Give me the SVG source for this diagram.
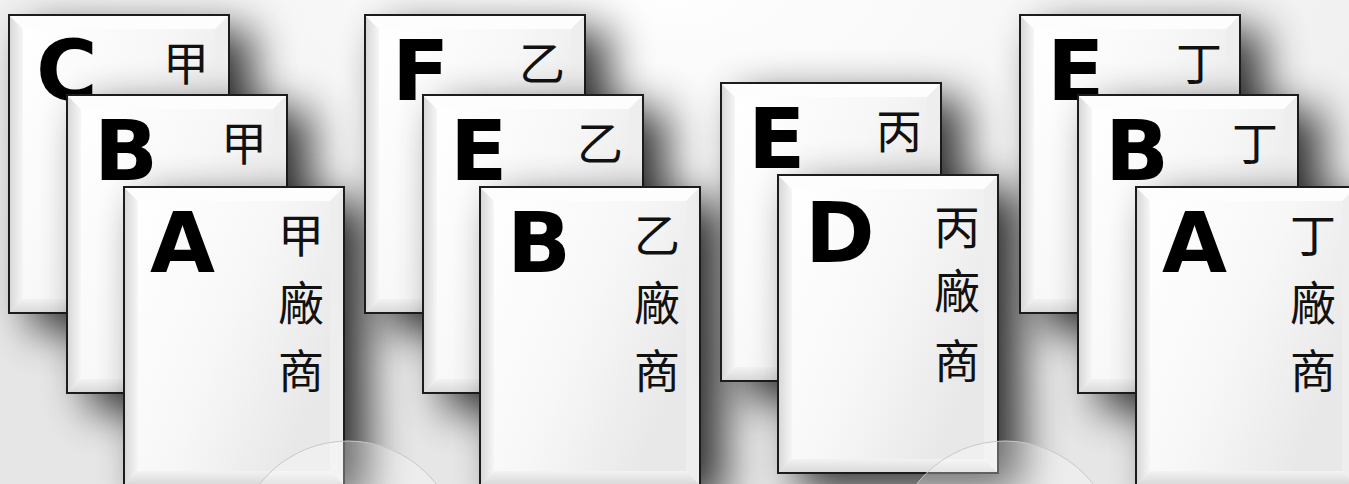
<svg xmlns="http://www.w3.org/2000/svg" xmlns:xlink="http://www.w3.org/1999/xlink" width="1349" height="484" viewBox="0 0 1349 484">
<style>
.L{font-family:"DejaVu Sans","Liberation Sans",sans-serif;font-weight:bold;font-size:84px;fill:#000}
.K{font-family:"Noto Sans CJK TC","Noto Sans CJK SC",sans-serif;font-size:46px;text-anchor:middle;fill:#111}
</style>
<defs>
<filter id="sh" x="-40%" y="-40%" width="190%" height="190%">
<feGaussianBlur in="SourceAlpha" stdDeviation="22"/>
<feOffset dx="22" dy="16" result="b"/>
<feComponentTransfer><feFuncA type="linear" slope="0.8"/></feComponentTransfer>
<feMerge><feMergeNode/><feMergeNode in="SourceGraphic"/></feMerge>
</filter>
<linearGradient id="bevL" x1="0" y1="0" x2="1" y2="0"><stop offset="0" stop-color="#d6d6d6"/><stop offset="1" stop-color="#f6f6f6"/></linearGradient>
<linearGradient id="bevB" x1="0" y1="1" x2="0" y2="0"><stop offset="0" stop-color="#d8d8d8"/><stop offset="1" stop-color="#f2f2f2"/></linearGradient>
<linearGradient id="face" x1="0" y1="0" x2="1" y2="0.6"><stop offset="0" stop-color="#ffffff"/><stop offset="0.55" stop-color="#f7f7f7"/><stop offset="1" stop-color="#e8e8e8"/></linearGradient>
<radialGradient id="bg" cx="0.5" cy="0" r="0.9"><stop offset="0" stop-color="#fefefe"/><stop offset="1" stop-color="#e6e6e6"/></radialGradient>
<g id="cardbase">
<rect x="0" y="0" width="220" height="298" fill="#fafafa"/>
<rect x="14" y="14" width="192" height="270" fill="url(#face)"/>
<path d="M0,0 L14,14 L14,284 L0,298 Z" fill="url(#bevL)"/>
<path d="M0,0 L220,0 L206,14 L14,14 Z" fill="#fdfdfd"/>
<path d="M220,0 L220,298 L206,284 L206,14 Z" fill="#eeeeee"/>
<path d="M0,298 L220,298 L206,284 L14,284 Z" fill="url(#bevB)"/>
<rect x="0" y="0" width="220" height="298" fill="none" stroke="#1a1a1a" stroke-width="2"/>
</g>
</defs>
<rect width="1349" height="484" fill="url(#bg)"/>
<g id="group1">
<g id="card-C1"><use xlink:href="#cardbase" x="9" y="15" filter="url(#sh)"/><text class="L" x="36" y="100">C</text><text class="K" x="186" y="80">甲</text></g>
<g id="card-B1"><use xlink:href="#cardbase" x="67" y="95" filter="url(#sh)"/><text class="L" x="94" y="180">B</text><text class="K" x="244" y="160">甲</text></g>
<g id="card-A1"><use xlink:href="#cardbase" x="124" y="187" filter="url(#sh)"/><text class="L" x="150" y="272">A</text><text class="K" x="301" y="252">甲</text><text class="K" x="301" y="320">廠</text><text class="K" x="301" y="388">商</text></g>
</g>
<g id="group2">
<g id="card-F2"><use xlink:href="#cardbase" x="365" y="15" filter="url(#sh)"/><text class="L" x="392" y="100">F</text><text class="K" x="542" y="80">乙</text></g>
<g id="card-E2"><use xlink:href="#cardbase" x="423" y="95" filter="url(#sh)"/><text class="L" x="450" y="180">E</text><text class="K" x="600" y="160">乙</text></g>
<g id="card-B2"><use xlink:href="#cardbase" x="480" y="187" filter="url(#sh)"/><text class="L" x="507" y="272">B</text><text class="K" x="657" y="252">乙</text><text class="K" x="657" y="320">廠</text><text class="K" x="657" y="388">商</text></g>
</g>
<g id="group3">
<g id="card-E3"><use xlink:href="#cardbase" x="721" y="83" filter="url(#sh)"/><text class="L" x="748" y="168">E</text><text class="K" x="899" y="148">丙</text></g>
<g id="card-D3"><use xlink:href="#cardbase" x="778" y="175" filter="url(#sh)"/><text class="L" x="805" y="262">D</text><text class="K" x="957" y="244">丙</text><text class="K" x="957" y="308">廠</text><text class="K" x="957" y="378">商</text></g>
</g>
<g id="group4">
<g id="card-E4"><use xlink:href="#cardbase" x="1020" y="15" filter="url(#sh)"/><text class="L" x="1047" y="100">E</text><text class="K" x="1199" y="80">丁</text></g>
<g id="card-B4"><use xlink:href="#cardbase" x="1078" y="95" filter="url(#sh)"/><text class="L" x="1105" y="180">B</text><text class="K" x="1255" y="160">丁</text></g>
<g id="card-A4"><use xlink:href="#cardbase" x="1136" y="187" filter="url(#sh)"/><text class="L" x="1162" y="272">A</text><text class="K" x="1313" y="252">丁</text><text class="K" x="1313" y="320">廠</text><text class="K" x="1313" y="388">商</text></g>
</g>
<g id="decor" fill="#ffffff" fill-opacity="0.3" stroke="#c8c8c8" stroke-width="1">
<circle cx="348" cy="553" r="112"/>
<circle cx="1005" cy="553" r="112"/>
</g>
</svg>
